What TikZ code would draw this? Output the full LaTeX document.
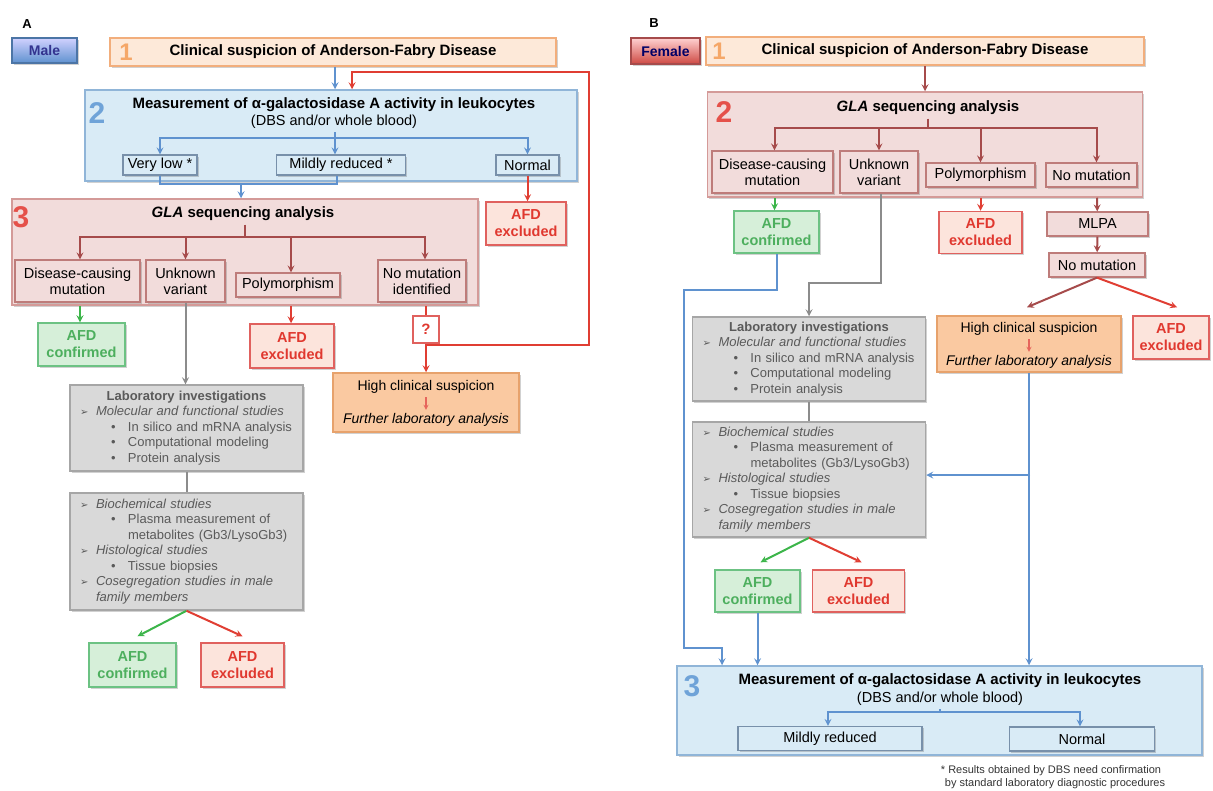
\documentclass[tikz,border=0pt]{standalone}
\usepackage{fontspec}
\setmainfont{Liberation Sans}
\newfontfamily\symfont{DejaVu Sans}
\usepackage{xcolor}
\usetikzlibrary{arrows, positioning, shadows, calc}

\definecolor{peachfill}{HTML}{FDE9D9}
\definecolor{peachbord}{HTML}{F2AE7C}
\definecolor{orangefill}{HTML}{FAC9A1}
\definecolor{orangebord}{HTML}{E7A26C}
\definecolor{bluefill}{HTML}{D9EBF6}
\definecolor{bluebord}{HTML}{90B5D8}
\definecolor{innerblue}{HTML}{7890AA}
\definecolor{pinkfill}{HTML}{F2DCDB}
\definecolor{pinkbord}{HTML}{D49A98}
\definecolor{innerpink}{HTML}{BE7C7A}
\definecolor{grayfill}{HTML}{D9D9D9}
\definecolor{graybord}{HTML}{A6A6A6}
\definecolor{graytext}{HTML}{5A5A5A}
\definecolor{greenfill}{HTML}{D6EFD9}
\definecolor{greenbord}{HTML}{6CC283}
\definecolor{greentext}{HTML}{4DAF5E}
\definecolor{redfill}{HTML}{FCE4DC}
\definecolor{redbord}{HTML}{E0615E}
\definecolor{redtext}{HTML}{E0382F}
\definecolor{arrblue}{HTML}{5F92CF}
\definecolor{arrred}{HTML}{E03E33}
\definecolor{arrbrown}{HTML}{A64B4B}
\definecolor{arrgreen}{HTML}{3CB54A}
\definecolor{arrgray}{HTML}{8C8C8C}
\definecolor{numorange}{HTML}{F5A768}
\definecolor{numblue}{HTML}{6FA3D8}
\definecolor{numred}{HTML}{E5514A}

\newcommand{\fs}[2]{\fontsize{#1}{#2}\selectfont}
\newcommand{\arrowitem}[1]{\makebox[16pt][l]{\symfont\fs{10}{10}\char"27A2}\textit{#1}}
\newcommand{\dotitem}[1]{\hspace*{31pt}\makebox[17pt][l]{•}#1}
\newcommand{\hangitem}[1]{\hspace*{48pt}#1}
\newcommand{\labhead}[1]{\makebox[213pt][c]{\textbf{#1}}}

\begin{document}
\begin{tikzpicture}[
    x=1pt, y=-1pt, >=stealth,
    shadowed/.style={drop shadow={shadow xshift=1.8pt, shadow yshift=-1.8pt,
      opacity=0.3, fill=black!60}},
    box/.style={draw, rectangle, align=center, inner sep=2pt, line width=1.3pt},
    peachbox/.style={box, shadowed, fill=peachfill, draw=peachbord, line width=1.6pt},
    orangebox/.style={box, shadowed, fill=orangefill, draw=orangebord, line width=1.5pt},
    bluebox/.style={box, shadowed, fill=bluefill, draw=bluebord, line width=1.5pt},
    pinkbox/.style={box, shadowed, fill=pinkfill, draw=pinkbord, line width=1.5pt},
    blueinner/.style={box, shadowed, fill=bluefill, draw=innerblue, font=\fs{14.5}{16}},
    pinkinner/.style={box, shadowed, fill=pinkfill, draw=innerpink, font=\fs{14.5}{16}},
    labbox/.style={box, shadowed, fill=grayfill, draw=graybord, line width=1.5pt,
      text=graytext, font=\fs{13}{15.5}, align=left, text width=213pt, inner xsep=10pt,
      minimum width=233pt},
    afdyes/.style={box, shadowed, fill=greenfill, draw=greenbord, line width=1.5pt,
      text=greentext, font=\bfseries\fs{14.5}{17}},
    afdno/.style={box, shadowed, fill=redfill, draw=redbord, line width=1.5pt,
      text=redtext, font=\bfseries\fs{14.5}{17}},
    malebtn/.style={box, shadowed, draw=arrblue!80!black, top color=blue!18!white,
      bottom color=arrblue, text=blue!45!black!80, font=\bfseries\fs{14}{16}},
    femalebtn/.style={box, shadowed, draw=arrbrown, top color=red!18!white,
      bottom color=numred!90!black, text=blue!40!black, font=\bfseries\fs{14}{16}},
    bignum/.style={font=\bfseries\fs{30}{30}, inner sep=0pt},
    tagtext/.style={font=\bfseries\fs{13}{13}},
    titletext/.style={font=\bfseries\fs{15}{17}},
    subtext/.style={font=\fs{14.5}{17}},
    plaintext/.style={font=\fs{14}{16}},
    line/.style={line width=2pt},
    bluearr/.style={line, ->, arrblue},
    blueline/.style={line, arrblue},
    redarr/.style={line, ->, arrred},
    brownarr/.style={line, ->, arrbrown},
    brownline/.style={line, arrbrown},
    greenarr/.style={line, ->, arrgreen},
    grayarr/.style={line, ->, arrgray},
    grayline/.style={line, arrgray},
    smallarr/.style={line width=1.3pt, ->, arrred!80}
]
\useasboundingbox (0,0) rectangle (1213,790);

% ---------------- panel A: male
\node[tagtext] (tagA) at (27,24) {A};
\node[malebtn, minimum width=65pt, minimum height=25pt] (male) at (44.5,50.5) {Male};
\node[peachbox, minimum width=446pt, minimum height=28pt, font=\bfseries\fs{15}{17}] (clinA) at (333,52) {Clinical suspicion of Anderson-Fabry Disease};
\node[bignum, text=numorange, font=\bfseries\fs{24}{24}] (oneA) at (126,52) {1};

\node[bluebox, minimum width=492pt, minimum height=91pt] (measA) at (331,135.5) {};
\node[bignum, text=numblue] (twoA) at (97,113) {2};
\node[titletext] (measAt) at (334,105) {Measurement of α-galactosidase A activity in leukocytes};
\node[subtext] (measAs) at (334,122) {(DBS and/or whole blood)};
\node[blueinner, minimum width=74pt, minimum height=20pt] (veryA) at (160,165) {Very low *};
\node[blueinner, minimum width=129pt, minimum height=20pt] (mildA) at (341,165) {Mildly reduced *};
\node[blueinner, minimum width=63pt, minimum height=20pt] (normA) at (527.5,165) {Normal};
\node[afdno, minimum width=80pt, minimum height=43pt] (exclA1) at (526,223.5) {AFD\\excluded};

\node[pinkbox, minimum width=466pt, minimum height=106pt] (seqA) at (245,252) {};
\node[bignum, text=numred] (threeA) at (21,217) {3};
\node[titletext] (seqAt) at (243,214) {\textit{GLA} sequencing analysis};
\node[pinkinner, minimum width=125pt, minimum height=42pt] (causA) at (77.5,281) {Disease-causing\\mutation};
\node[pinkinner, minimum width=79pt, minimum height=42pt] (unkA) at (185.5,281) {Unknown\\variant};
\node[pinkinner, minimum width=104pt, minimum height=24pt] (polyA) at (288,285) {Polymorphism};
\node[pinkinner, minimum width=88pt, minimum height=42pt] (nomutA) at (422,281) {No mutation\\identified};

\node[afdyes, minimum width=87pt, minimum height=43pt] (confA1) at (81.5,344.5) {AFD\\confirmed};
\node[afdno, minimum width=84pt, minimum height=44pt] (exclA2) at (292,346) {AFD\\excluded};
\node[box, fill=white, draw=redbord, text=redtext, font=\bfseries\fs{15}{17},
  minimum width=26pt, minimum height=27pt] (qA) at (426,329.5) {?};

\node[orangebox, minimum width=186pt, minimum height=59pt] (highA) at (426,402.5) {};
\node[plaintext] (highAt) at (426,387) {High clinical suspicion};
\node[plaintext, font=\itshape\fs{14}{16}] (highAb) at (426,420) {Further laboratory analysis};

\node[labbox, minimum height=86pt] (labA) at (186.5,428) {%
  \labhead{Laboratory investigations}\\
  \arrowitem{Molecular and functional studies}\\
  \dotitem{In silico and mRNA analysis}\\
  \dotitem{Computational modeling}\\
  \dotitem{Protein analysis}};
\node[labbox, minimum height=117pt] (studA) at (186.5,551.5) {%
  \arrowitem{Biochemical studies}\\
  \dotitem{Plasma measurement of}\\
  \hangitem{metabolites (Gb3/LysoGb3)}\\
  \arrowitem{Histological studies}\\
  \dotitem{Tissue biopsies}\\
  \arrowitem{Cosegregation studies in male}\\
  \hspace*{16pt}\textit{family members}};
\node[afdyes, minimum width=87pt, minimum height=44pt] (confA2) at (132.5,665) {AFD\\confirmed};
\node[afdno, minimum width=83pt, minimum height=44pt] (exclA3) at (242.5,665) {AFD\\excluded};

\coordinate (splitA2) at (335,138);
\coordinate (joinA) at (241,183);
\coordinate (splitA3) at (245,237);
\coordinate (qjoinA) at (426,345);
\coordinate (backA) at (589,72);
\coordinate (backinA) at (352,72);

\draw[bluearr] (clinA.south -| splitA2) -- (splitA2 |- measA.north);
\draw[blueline] (measAs.south -| splitA2) -- (splitA2);
\draw[bluearr] (splitA2) -| (veryA);
\draw[bluearr] (splitA2) -- (splitA2 |- mildA.north);
\draw[bluearr] (splitA2) -| (normA);
\draw[blueline] (veryA.south) -- ++(0,8) -| ([xshift=-4pt]mildA.south);
\draw[bluearr] (joinA) -- (joinA |- seqA.north);
\draw[redarr] (normA.south) -- (normA.south |- exclA1.north);

\draw[brownline] (seqAt.south -| splitA3) -- (splitA3);
\draw[brownarr] (splitA3) -| ([xshift=2.5pt]causA.north);
\draw[brownarr] (splitA3) -| (unkA);
\draw[brownarr] (splitA3) -| ([xshift=3pt]polyA.north);
\draw[brownarr] (splitA3) -| ([xshift=3pt]nomutA.north);

\draw[greenarr] ([xshift=2.5pt]causA.south |- seqA.south) -- ([xshift=2.5pt]causA.south |- confA1.north);
\draw[grayarr] (unkA.south) -- (unkA.south |- labA.north);
\draw[redarr] ([xshift=3pt]polyA.south |- seqA.south) -- ([xshift=3pt]polyA.south |- exclA2.north);
\draw[arrred, line] ([xshift=4pt]nomutA.south |- seqA.south) -- (qA);
\draw[redarr] (qA) -- (qA |- highA.north);
\draw[redarr] (qjoinA) -| (backA) -- (backinA) -- (backinA |- measA.north);
\draw[smallarr] (highAt) -- (highAb);

\draw[grayline] (labA) -- (studA);
\draw[greenarr] (studA.south) -- ([xshift=5pt, yshift=6pt]confA2.north);
\draw[redarr] (studA.south) -- ([xshift=0pt, yshift=6pt]exclA3.north);

% ---------------- panel B: female
\node[tagtext] (tagB) at (654,23) {B};
\node[femalebtn, minimum width=69pt, minimum height=26pt] (female) at (665.5,51) {Female};
\node[peachbox, minimum width=438pt, minimum height=28pt, font=\bfseries\fs{15}{17}] (clinB) at (925,51) {Clinical suspicion of Anderson-Fabry Disease};
\node[bignum, text=numorange, font=\bfseries\fs{24}{24}] (oneB) at (719,51) {1};

\node[pinkbox, minimum width=435pt, minimum height=105pt] (seqB) at (925,144.5) {};
\node[bignum, text=numred] (twoB) at (724,112) {2};
\node[titletext] (seqBt) at (928,108) {\textit{GLA} sequencing analysis};
\node[pinkinner, minimum width=121pt, minimum height=42pt] (causB) at (772.5,172) {Disease-causing\\mutation};
\node[pinkinner, minimum width=78pt, minimum height=42pt] (unkB) at (879,172) {Unknown\\variant};
\node[pinkinner, minimum width=109pt, minimum height=24pt] (polyB) at (980.5,175) {Polymorphism};
\node[pinkinner, minimum width=91pt, minimum height=24pt] (nomutB) at (1091.5,175) {No mutation};

\node[afdyes, minimum width=85pt, minimum height=42pt] (confB1) at (776.5,232) {AFD\\confirmed};
\node[afdno, minimum width=83pt, minimum height=42pt] (exclB1) at (980.5,232.5) {AFD\\excluded};
\node[pinkinner, minimum width=101pt, minimum height=24pt] (mlpaB) at (1097.5,224) {MLPA};
\node[pinkinner, minimum width=96pt, minimum height=24pt] (nomutB2) at (1097,265) {No mutation};

\node[orangebox, minimum width=184pt, minimum height=56pt] (highB) at (1029,344) {};
\node[plaintext] (highBt) at (1029,329) {High clinical suspicion};
\node[plaintext, font=\itshape\fs{14}{16}] (highBb) at (1029,362) {Further laboratory analysis};
\node[afdno, minimum width=76pt, minimum height=43pt] (exclB2) at (1171,337.5) {AFD\\excluded};

\node[labbox, minimum height=84pt] (labB) at (809,359) {%
  \labhead{Laboratory investigations}\\
  \arrowitem{Molecular and functional studies}\\
  \dotitem{In silico and mRNA analysis}\\
  \dotitem{Computational modeling}\\
  \dotitem{Protein analysis}};
\node[labbox, minimum height=115pt] (studB) at (809,479.5) {%
  \arrowitem{Biochemical studies}\\
  \dotitem{Plasma measurement of}\\
  \hangitem{metabolites (Gb3/LysoGb3)}\\
  \arrowitem{Histological studies}\\
  \dotitem{Tissue biopsies}\\
  \arrowitem{Cosegregation studies in male}\\
  \hspace*{16pt}\textit{family members}};
\node[afdyes, minimum width=85pt, minimum height=42pt] (confB2) at (757.5,591) {AFD\\confirmed};
\node[afdno, minimum width=92pt, minimum height=42pt] (exclB3) at (858.5,591) {AFD\\excluded};

\node[bluebox, minimum width=525pt, minimum height=89pt] (measB) at (939.5,710.5) {};
\node[bignum, text=numblue] (threeB) at (692,686) {3};
\node[titletext] (measBt) at (940,681) {Measurement of α-galactosidase A activity in leukocytes};
\node[subtext] (measBs) at (940,699) {(DBS and/or whole blood)};
\node[blueinner, minimum width=184pt, minimum height=24pt] (mildB) at (830,738.5) {Mildly reduced};
\node[blueinner, minimum width=145pt, minimum height=24pt] (normB) at (1082,739) {Normal};

\node[font=\fs{11}{12.5}, align=left, text=black!80] (noteB) at (1053,777) {%
  * Results obtained by DBS need confirmation\\
  \hspace*{4pt}by standard laboratory diagnostic procedures};

\coordinate (splitB2) at (928,128);
\coordinate (turnB) at (881,283);
\coordinate (leftB1) at (684,290);
\coordinate (dropB) at (722,648);
\coordinate (sideB) at (1030,475);
\coordinate (splitB3) at (940,712);

\draw[brownarr] (clinB) -- (seqB);
\draw[brownline] (seqBt.south -| splitB2) -- (splitB2);
\draw[brownarr] (splitB2) -| ([xshift=2pt]causB.north);
\draw[brownarr] (splitB2) -| (unkB);
\draw[brownarr] (splitB2) -| (polyB);
\draw[brownarr] (splitB2) -| ([xshift=5pt]nomutB.north);

\draw[greenarr] ([xshift=2pt]causB.south |- seqB.south) -- ([xshift=2pt]causB.south |- confB1.north);
\draw[redarr] (polyB.south |- seqB.south) -- (polyB.south |- exclB1.north);
\draw[brownarr] (nomutB2.north |- seqB.south) -- (mlpaB);
\draw[brownarr] (mlpaB) -- (nomutB2);
\draw[brownarr] (nomutB2.south) -- ([xshift=-2pt, yshift=8pt]highB.north);
\draw[redarr] (nomutB2.south) -- ([xshift=6pt, yshift=8pt]exclB2.north);
\draw[smallarr] (highBt) -- (highBb);

\draw[grayarr] (unkB.south -| turnB) -- (turnB) -| (labB.north);
\draw[grayline] (labB) -- (studB);
\draw[greenarr] (studB.south) -- ([xshift=3pt, yshift=7pt]confB2.north);
\draw[redarr] (studB.south) -- ([xshift=3pt, yshift=7pt]exclB3.north);

\draw[bluearr] (confB1.south) |- (leftB1) |- (dropB) -- (dropB |- measB.north);
\draw[bluearr] (confB2.south) -- (confB2.south |- measB.north);
\draw[bluearr] (highB.south) -- (highB.south |- measB.north);
\draw[bluearr] (sideB) -- (sideB -| studB.east);

\draw[blueline] (measBs.south -| splitB3) -- (splitB3);
\draw[bluearr] (splitB3) -| ([xshift=-2pt]mildB.north);
\draw[bluearr] (splitB3) -| ([xshift=-2pt]normB.north);
\end{tikzpicture}
\end{document}
